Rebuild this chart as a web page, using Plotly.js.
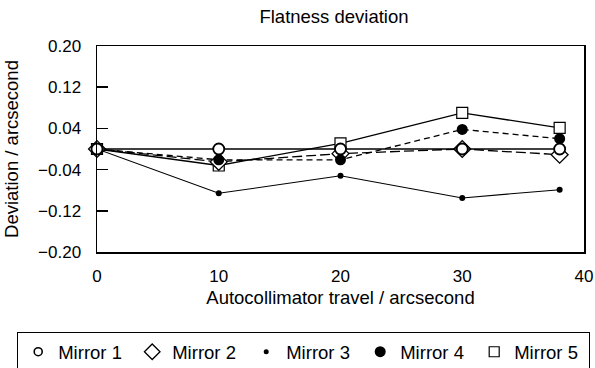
<!DOCTYPE html>
<html><head><meta charset="utf-8">
<script src="https://cdn.plot.ly/plotly-3.0.1.min.js"></script>
<style>html,body{margin:0;padding:0;background:#fff;}#chart{width:595px;height:368px;}</style>
</head><body><div id="chart"></div>
<script>
const travel = [0, 10, 20, 30, 38];
const mirror1 = [0, 0, 0, 0, 0];
const mirror2 = [0, -0.025, -0.009, 0, -0.011];
const mirror3 = [0, -0.086, -0.052, -0.095, -0.079];
const mirror4 = [0, -0.021, -0.021, 0.038, 0.020];
const mirror5 = [0, -0.032, 0.011, 0.070, 0.041];
const seriesNames = ['Mirror 1', 'Mirror 2', 'Mirror 3', 'Mirror 4', 'Mirror 5'];
const xTicks = [0, 10, 20, 30, 40];
const yTicks = [-0.2, -0.12, -0.04, 0.04, 0.12, 0.2];
const yTickText = ['\u22120.20', '\u22120.12', '\u22120.04', '0.04', '0.12', '0.20'];

const styles = {
  'Mirror 1': {dash: 'solid', width: 1.6, symbol: 'circle', size: 11, color: '#fff', lw: 1.8},
  'Mirror 2': {dash: '10px,4px', width: 1.3, symbol: 'diamond', size: 13, color: '#fff', lw: 1.3},
  'Mirror 3': {dash: 'solid', width: 1.1, symbol: 'circle', size: 6, color: '#000', lw: 0},
  'Mirror 4': {dash: '6px,4px', width: 1.3, symbol: 'circle', size: 11, color: '#000', lw: 0},
  'Mirror 5': {dash: 'solid', width: 1.3, symbol: 'square', size: 11, color: '#fff', lw: 1.2}
};
const dataMap = {'Mirror 1': mirror1, 'Mirror 2': mirror2, 'Mirror 3': mirror3, 'Mirror 4': mirror4, 'Mirror 5': mirror5};
const drawOrder = ['Mirror 5', 'Mirror 2', 'Mirror 3', 'Mirror 4', 'Mirror 1'];
const legendSizes = {'Mirror 1': 8, 'Mirror 2': 12, 'Mirror 3': 5, 'Mirror 4': 11, 'Mirror 5': 10};

function mk(s, size) {
  return {symbol: s.symbol, size: size || s.size, color: s.color, line: {color: '#000', width: s.lw}};
}

const traces = [];
drawOrder.forEach(n => {
  const s = styles[n];
  traces.push({x: travel, y: dataMap[n], mode: 'lines+markers', name: n, showlegend: false,
    line: {color: '#000', width: s.width, dash: s.dash}, marker: mk(s), cliponaxis: false});
});
seriesNames.forEach(n => {
  const s = styles[n];
  const m = mk(s, legendSizes[n]);
  if (n === 'Mirror 1') m.line.width = 1.6;
  traces.push({x: [null], y: [null], mode: 'markers', name: n, showlegend: true, marker: m});
});

const font = {family: 'Liberation Sans, Arial, sans-serif', color: '#000'};
const plotL = 97, plotR = 584, plotT = 46, plotB = 252;
const layout = {
  width: 595, height: 368,
  margin: {l: plotL, r: 595 - plotR, t: plotT, b: 368 - plotB, autoexpand: false},
  paper_bgcolor: '#fff', plot_bgcolor: '#fff',
  font: Object.assign({size: 17}, font),
  title: {text: 'Flatness deviation', font: Object.assign({size: 18.5}, font), x: 334 / 595, xref: 'container', xanchor: 'center', y: 1 - 17 / 368, yref: 'container', yanchor: 'middle'},
  xaxis: {range: [0, 40], tickvals: xTicks, ticks: '', showgrid: false, zeroline: false,
    showline: true, linecolor: '#000', linewidth: 1.5, mirror: true, ticklabelstandoff: 8,
    tickfont: Object.assign({size: 17}, font),
    title: {text: 'Autocollimator travel / arcsecond', font: Object.assign({size: 18.5}, font), standoff: 6}},
  yaxis: {range: [-0.2, 0.2], tickvals: yTicks, ticktext: yTickText,
    ticks: 'inside', ticklen: 11, tickwidth: 1.5, tickcolor: '#000', showgrid: false, zeroline: false,
    showline: true, linecolor: '#000', linewidth: 1.5, mirror: true, ticklabelstandoff: 11,
    tickfont: Object.assign({size: 17}, font),
    title: {text: 'Deviation / arcsecond', font: Object.assign({size: 18.5}, font), standoff: 14}},
  legend: {orientation: 'h',
    x: (17 - plotL) / (plotR - plotL), xref: 'paper', xanchor: 'left',
    y: (plotB - 332) / (plotB - plotT), yref: 'paper', yanchor: 'top',
    bordercolor: '#000', borderwidth: 1.2, bgcolor: '#fff', font: Object.assign({size: 18.5}, font),
    entrywidth: 69, entrywidthmode: 'pixels', itemwidth: 30, tracegroupgap: 0}
};
Plotly.newPlot('chart', traces, layout, {displayModeBar: false, staticPlot: true});
</script></body></html>
